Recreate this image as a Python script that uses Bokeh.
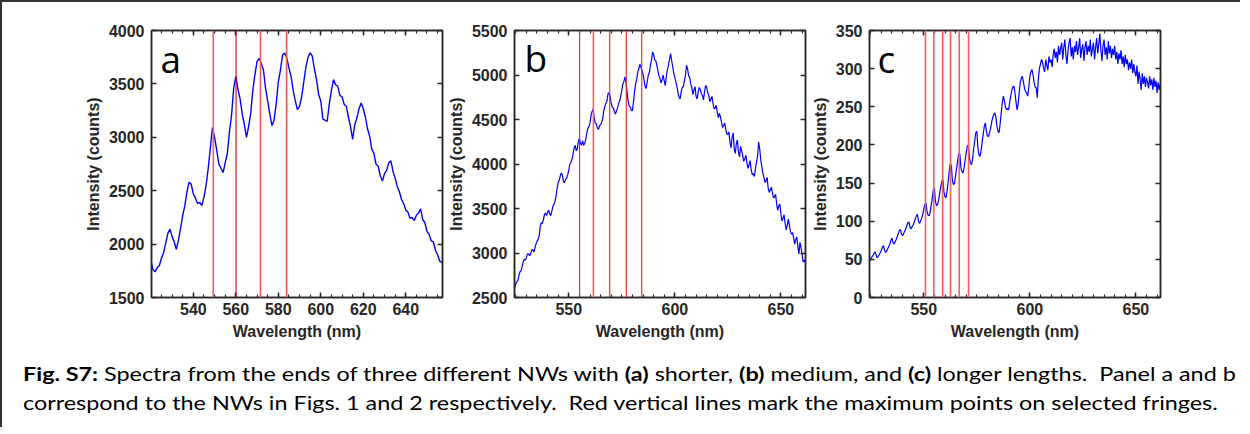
import numpy as np
from bokeh.plotting import figure
from bokeh.models import (Range1d, LinearAxis, SingleIntervalTicker, Span, Label,
                          Div, CustomJSTickFormatter)
from bokeh.layouts import row, column
from bokeh.embed import file_html
from bokeh.resources import INLINE

# ---------------- data ----------------
# panel a: sampled every 1 nm starting at 520 nm
INT_A = [1840, 1760, 1740, 1780, 1800, 1870, 1920, 2010, 2100, 2140,
         2070, 2020, 1950, 2040, 2150, 2270, 2360, 2490, 2580, 2560,
         2470, 2430, 2380, 2390, 2360, 2440, 2550, 2710, 2900, 3090,
         3000, 2880, 2750, 2710, 2670, 2760, 2850, 3050, 3210, 3460,
         3570, 3450, 3360, 3220, 3120, 3000, 3100, 3220, 3440, 3590,
         3710, 3740, 3690, 3630, 3460, 3340, 3220, 3110, 3160, 3310,
         3520, 3630, 3770, 3790, 3740, 3650, 3570, 3440, 3340, 3260,
         3290, 3380, 3520, 3660, 3750, 3790, 3760, 3640, 3540, 3400,
         3340, 3170, 3160, 3150, 3310, 3440, 3540, 3490, 3480, 3390,
         3380, 3310, 3290, 3190, 3100, 2980, 3120, 3180, 3270, 3320,
         3270, 3190, 3080, 3010, 2890, 2850, 2750, 2730, 2640, 2590,
         2660, 2690, 2760, 2780, 2680, 2620, 2540, 2490, 2420, 2380,
         2320, 2300, 2240, 2250, 2220, 2270, 2290, 2330, 2230, 2200,
         2120, 2090, 2030, 2020, 1940, 1900, 1840, 1830, 1810]
WL_A = 520.0 + 1.0 * np.arange(len(INT_A))

# panel b: sampled every 0.5 nm starting at 524 nm
INT_B = [2600, 2610, 2650, 2680, 2690, 2750, 2790, 2800, 2850, 2900, 2930, 2920, 2950, 2990, 2990, 2970, 2990, 3030, 3040, 3010,
         3050, 3100, 3130, 3150, 3190, 3290, 3340, 3330, 3370, 3430, 3450, 3420, 3460, 3480, 3440, 3420, 3470, 3520, 3550, 3580,
         3640, 3730, 3790, 3820, 3870, 3900, 3870, 3800, 3790, 3830, 3840, 3880, 3930, 4000, 4020, 4050, 4110, 4180, 4210, 4150,
         4170, 4250, 4290, 4230, 4210, 4260, 4210, 4230, 4280, 4350, 4400, 4420, 4460, 4550, 4590, 4620, 4510, 4460, 4450, 4400,
         4390, 4430, 4440, 4470, 4510, 4600, 4650, 4680, 4710, 4790, 4800, 4760, 4680, 4640, 4630, 4590, 4560, 4600, 4630, 4680,
         4710, 4760, 4830, 4900, 4930, 4980, 4910, 4800, 4710, 4650, 4640, 4600, 4600, 4700, 4810, 4900, 4950, 5030, 5070, 5120,
         5090, 5050, 5010, 4940, 4870, 4850, 4930, 5000, 5030, 5110, 5170, 5260, 5230, 5170, 5160, 5110, 5050, 4990, 4960, 4910,
         4950, 5000, 4930, 4880, 4990, 5060, 5110, 5180, 5240, 5160, 5090, 5020, 4970, 4920, 4870, 4800, 4750, 4730, 4810, 4860,
         4870, 4930, 5000, 5110, 5070, 4990, 4970, 4900, 4860, 4780, 4830, 4870, 4760, 4730, 4810, 4860, 4840, 4790, 4770, 4720,
         4810, 4880, 4870, 4800, 4770, 4700, 4730, 4760, 4680, 4620, 4630, 4660, 4580, 4520, 4570, 4530, 4470, 4410, 4430, 4460,
         4390, 4340, 4330, 4360, 4240, 4180, 4300, 4350, 4170, 4120, 4230, 4270, 4130, 4080, 4200, 4150, 4090, 4030, 4060, 4100,
         4010, 3950, 3990, 4040, 3930, 3880, 3890, 3860, 3950, 4020, 4090, 4250, 4170, 4050, 3970, 3900, 3850, 3790, 3810, 3850,
         3730, 3680, 3710, 3740, 3680, 3620, 3630, 3660, 3550, 3480, 3530, 3550, 3440, 3360, 3390, 3430, 3330, 3260, 3310, 3380,
         3310, 3240, 3210, 3230, 3170, 3100, 3150, 3180, 3070, 2990, 3120, 3060, 2980, 2900, 2920, 2890]
WL_B = 524.0 + 0.5 * np.arange(len(INT_B))

# panel c: sampled every 0.5 nm starting at 524 nm
INT_C = [46, 48, 50, 53, 55, 58, 60, 56, 52, 54, 56, 59, 62, 66, 68, 62, 59, 61, 64, 67,
         70, 75, 78, 72, 70, 73, 76, 80, 84, 88, 89, 83, 81, 84, 87, 90, 94, 98, 99, 92,
         90, 93, 95, 99, 103, 107, 109, 100, 97, 100, 104, 109, 116, 122, 124, 113, 108, 107, 112, 121,
         130, 141, 143, 126, 120, 122, 128, 137, 145, 152, 155, 138, 132, 131, 140, 152, 166, 176, 172, 153,
         148, 150, 160, 170, 180, 189, 188, 170, 165, 163, 170, 180, 190, 198, 200, 184, 176, 174, 182, 195,
         205, 216, 218, 196, 187, 185, 192, 203, 214, 224, 229, 218, 212, 211, 216, 222, 230, 236, 240, 242,
         236, 224, 218, 216, 228, 242, 255, 264, 258, 250, 246, 248, 246, 256, 264, 272, 276, 277, 268, 256,
         246, 254, 270, 282, 288, 290, 282, 274, 270, 268, 264, 276, 290, 296, 299, 292, 282, 276, 275, 262,
         286, 300, 306, 312, 308, 300, 296, 312, 304, 298, 316, 308, 312, 302, 318, 326, 314, 322, 308, 330,
         318, 326, 334, 312, 328, 338, 318, 306, 324, 334, 340, 316, 328, 312, 330, 322, 336, 318, 328, 340,
         314, 326, 332, 310, 328, 336, 318, 330, 322, 338, 316, 326, 334, 312, 328, 340, 320, 332, 346, 324,
         310, 330, 338, 318, 328, 312, 336, 320, 330, 314, 326, 318, 330, 312, 322, 306, 320, 312, 324, 306,
         316, 302, 318, 306, 312, 298, 308, 300, 312, 294, 306, 296, 290, 304, 280, 296, 286, 272, 294, 280,
         290, 276, 288, 282, 274, 290, 278, 286, 272, 288, 276, 284, 268, 282, 272, 280]
WL_C = 524.0 + 0.5 * np.arange(len(INT_C))

FRINGES_A = [549.4, 560.1, 571.6, 583.9]
FRINGE_COL_A = ["#ff5a5a", "#d40000", "#ff5a5a", "#ff5a5a"]
FRINGES_B = [555.1, 561.6, 569.3, 577.1, 584.4]
FRINGE_COL_B = ["#f21d1d", "#ff5a5a", "#f21d1d", "#f21d1d", "#f21d1d"]
FRINGES_C = [550.8, 554.7, 558.9, 562.6, 566.7, 571.1]
FRINGE_COL_C = ["#ff5a5a"] * 6

TXT = "#262626"


def panel(wl, vals, xr, yr, xint, xminor, yint, fringes, fcols, letter, lpos, ml, mr, lw):
    p = figure(frame_width=291, frame_height=267,
               x_range=Range1d(*xr), y_range=Range1d(*yr),
               output_backend="svg", toolbar_location=None,
               min_border_left=ml, min_border_right=mr, min_border_top=28,
               min_border_bottom=48,
               x_axis_label="Wavelength (nm)", y_axis_label="Intensity (counts)")
    p.grid.visible = False
    p.outline_line_color = TXT
    p.outline_line_width = 1.5
    p.background_fill_color = "white"
    p.border_fill_color = "white"

    p.line(wl, vals, line_color="#0000ff", line_width=lw)
    for f, c in zip(fringes, fcols):
        p.add_layout(Span(location=f, dimension="height", line_color=c,
                          line_width=1.6 if c == "#ff5a5a" else 1.1))

    top = LinearAxis()
    right = LinearAxis()
    p.add_layout(top, "above")
    p.add_layout(right, "right")
    blank = CustomJSTickFormatter(code="return ''")
    for ax in (top, right):
        ax.formatter = blank
        ax.major_label_standoff = 0

    for ax in p.xaxis:
        ax.ticker = SingleIntervalTicker(interval=xint, num_minor_ticks=xminor)
    for ax in p.yaxis:
        ax.ticker = SingleIntervalTicker(interval=yint, num_minor_ticks=0)

    for ax in list(p.xaxis) + list(p.yaxis):
        ax.axis_line_color = TXT
        ax.axis_line_width = 1.5
        ax.major_tick_line_color = TXT
        ax.major_tick_line_width = 1.5
        ax.minor_tick_line_color = TXT
        ax.minor_tick_line_width = 1.2
        ax.major_tick_in = 5
        ax.major_tick_out = 0
        ax.minor_tick_in = 3
        ax.minor_tick_out = 0
        ax.major_label_text_font = "Liberation Sans"
        ax.major_label_text_font_style = "bold"
        ax.major_label_text_font_size = "16px"
        ax.major_label_text_color = TXT
        ax.axis_label_text_font = "Liberation Sans"
        ax.axis_label_text_font_style = "bold"
        ax.axis_label_text_font_size = "16px"
        ax.axis_label_text_color = TXT

    p.xaxis[0].major_label_standoff = 6
    p.xaxis[0].axis_label_standoff = 3
    p.yaxis[0].major_label_standoff = 7
    p.yaxis[0].axis_label_standoff = 4

    p.add_layout(Label(x=lpos[0], y=lpos[1], text=letter, text_font="Open Sans",
                       text_font_size="37px", text_color="#000000",
                       text_baseline="alphabetic"))
    return p


pa = panel(WL_A, INT_A, (520.3, 657.3), (1500, 4000), 20, 4, 500,
           FRINGES_A, FRINGE_COL_A, "a", (524.5, 3738), 149, 2, 1.4)
pb = panel(WL_B, INT_B, (524.4, 661.6), (2500, 5500), 50, 10, 500,
           FRINGES_B, FRINGE_COL_B, "b", (529.1, 5197), 70, 3, 1.2)
pc = panel(WL_C, INT_C, (524.4, 661.6), (0, 350), 50, 10, 50,
           FRINGES_C, FRINGE_COL_C, "c", (528.2, 313), 61, 5, 1.2)

caption = Div(
    text=('<div style="font-family: Lato, sans-serif; font-size: 19px; line-height: 29px; '
          'white-space: nowrap; padding-left: 16px; padding-top: 9px; color: #000;">'
          '<div style="display: inline-block; transform: scaleX(1.23); transform-origin: 0 0;">'
          '<b>Fig. S7:</b> Spectra from the ends of three different NWs with <b>(a)</b> shorter, '
          '<b>(b)</b> medium, and <b>(c)</b> longer lengths.&nbsp; Panel a and b<br>'
          'correspond to the NWs in Figs. 1 and 2 respectively.&nbsp; Red vertical lines mark '
          'the maximum points on selected fringes.</div></div>'),
    width=1228, height=72)

top_row = row(pa, pb, pc)
layout = column(top_row, caption,
                styles={"border-left": "2px solid #333", "border-top": "2px solid #333"})

open("out.html", "w").write(file_html(layout, INLINE))
